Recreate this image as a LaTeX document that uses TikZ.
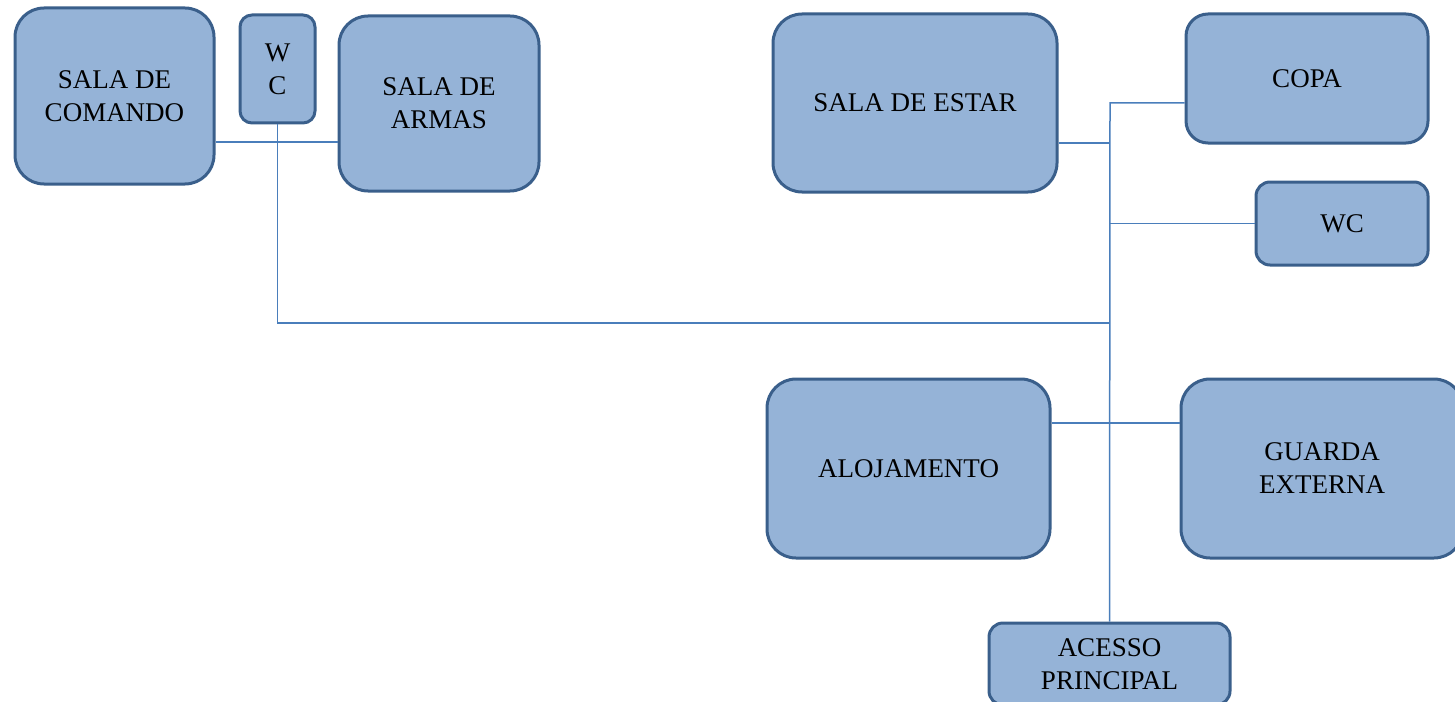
\documentclass[tikz,border=0pt]{standalone}
\usepackage{fontspec}
\setmainfont{Liberation Serif}
\definecolor{roomfill}{HTML}{95B3D7}
\definecolor{roomedge}{HTML}{3A5F8B}
\definecolor{linkblue}{HTML}{4A7EBB}
\begin{document}
\begin{tikzpicture}[x=0.5pt,y=-0.5pt,
  font=\fontsize{13.5}{16.5}\selectfont,
  room/.style={draw=roomedge, fill=roomfill, line width=1.5pt, rounded corners=#1,
    align=center, inner sep=0pt},
  room/.default=14pt,
  link/.style={draw=linkblue, line width=0.75pt}]
\useasboundingbox (0,0) rectangle (1455,701);

% left wing
\node[room=14.5pt, minimum width=99.5pt, minimum height=88pt] (cmd) at (114.5,96) {SALA DE\\COMANDO};
\node[room=6pt, minimum width=37.5pt, minimum height=54pt] (wcA) at (277.5,69) {W\\C};
\node[room=14.5pt, minimum width=100pt, minimum height=87.5pt] (arm) at (439,103.5) {SALA DE\\ARMAS};

% right wing
\node[room=14.5pt, minimum width=142pt, minimum height=89pt] (estar) at (915,103) {SALA DE ESTAR};
\node[room=11pt, minimum width=121pt, minimum height=64.5pt] (copa) at (1307,78.5) {COPA};
\node[room=7pt, minimum width=86pt, minimum height=41.5pt] (wcB) at (1342,223.5) {WC};
\node[room=14.5pt, minimum width=141.5pt, minimum height=89.5pt] (aloj) at (908.5,468.5) {ALOJAMENTO};
\node[room=14.5pt, minimum width=141pt, minimum height=89.5pt] (guarda) at (1322,468.5) {GUARDA\\EXTERNA};
\node[room=7pt, minimum width=120.5pt, minimum height=41pt] (acesso) at (1109.5,664) {ACESSO\\PRINCIPAL};

% junctions
\coordinate (hall) at (277,142);
\coordinate (tTop) at (1110,103);
\coordinate (tEstar) at (1110,143);
\coordinate (tMid) at (1110,323);
\coordinate (tAloj) at (1110,423);

% corridors
\draw[link] (cmd.east |- hall) -- (arm.west |- hall);
\draw[link] (wcA.south) -- (wcA.south |- tMid) -- (tMid);
\draw[link] (copa.west |- tTop) -- (tTop) -- (acesso.north);
\draw[link] (estar.east |- tEstar) -- (tEstar);
\draw[link] (wcB.west) -- (wcB.west -| tTop);
\draw[link] (aloj.east |- tAloj) -- (guarda.west |- tAloj);
\end{tikzpicture}
\end{document}
